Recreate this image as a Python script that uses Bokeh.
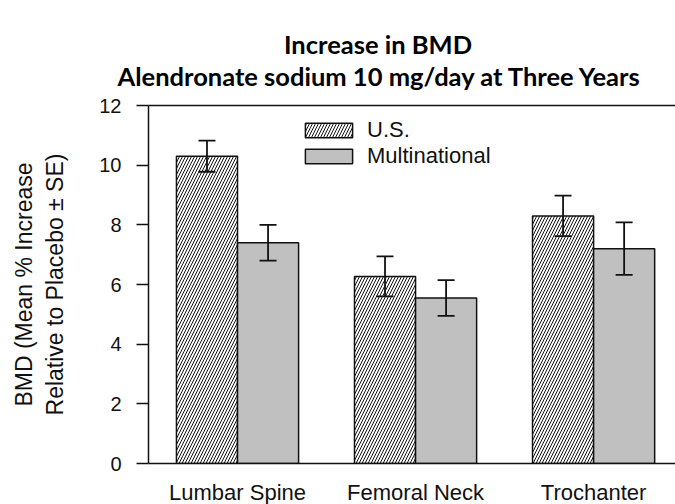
from bokeh.plotting import figure
from bokeh.models import (ColumnDataSource, Whisker, TeeHead, LinearAxis, FixedTicker,
                          Legend, LegendItem, Title, Range1d)
from bokeh.embed import file_html
from bokeh.resources import INLINE

categories = ["Lumbar Spine", "Femoral Neck", "Trochanter"]
us_mean = [10.3, 6.27, 8.3]
us_se = [0.52, 0.67, 0.68]
multi_mean = [7.4, 5.55, 7.2]
multi_se = [0.6, 0.6, 0.88]
series_names = ["U.S.", "Multinational"]
y_ticks = [0, 2, 4, 6, 8, 10, 12]
title_lines = ["Increase in BMD", "Alendronate sodium 10 mg/day at Three Years"]
y_label = "BMD (Mean % Increase\nRelative to Placebo \u00b1 SE)"

bar_w = 0.343
centers = [i + 0.5 for i in range(len(categories))]
us_x = [c - bar_w / 2 for c in centers]
mu_x = [c + bar_w / 2 for c in centers]

src_us = ColumnDataSource(dict(x=us_x, top=us_mean,
                               upper=[m + s for m, s in zip(us_mean, us_se)],
                               lower=[m - s for m, s in zip(us_mean, us_se)]))
src_mu = ColumnDataSource(dict(x=mu_x, top=multi_mean,
                               upper=[m + s for m, s in zip(multi_mean, multi_se)],
                               lower=[m - s for m, s in zip(multi_mean, multi_se)]))

p = figure(frame_width=527, frame_height=358, output_backend="svg", toolbar_location=None,
           x_range=Range1d(0, 2.96), y_range=Range1d(0, 12),
           min_border_left=148, min_border_top=105, min_border_right=0, min_border_bottom=41)
p.outline_line_color = None
p.grid.visible = False
p.background_fill_color = "white"
p.border_fill_color = "white"

r_us = p.vbar(x="x", top="top", width=bar_w, bottom=0, source=src_us,
              fill_color="white", line_color="#111111", line_width=1.5,
              hatch_pattern="/", hatch_color="#111111", hatch_scale=6, hatch_weight=1)
r_mu = p.vbar(x="x", top="top", width=bar_w, bottom=0, source=src_mu,
              fill_color="#c0c0c0", line_color="#111111", line_width=1.5)

for src in (src_us, src_mu):
    w = Whisker(source=src, base="x", upper="upper", lower="lower", level="overlay",
                line_color="#111111", line_width=1.8,
                upper_head=TeeHead(size=17, line_color="#111111", line_width=1.8),
                lower_head=TeeHead(size=17, line_color="#111111", line_width=1.8))
    p.add_layout(w)

# y axis
ya = p.yaxis[0]
ya.ticker = FixedTicker(ticks=y_ticks)
ya.minor_tick_line_color = None
ya.major_tick_out = 12
ya.major_tick_in = 0
ya.major_tick_line_width = 1.5
ya.major_tick_line_color = "#111111"
ya.axis_line_width = 1.5
ya.axis_line_color = "#111111"
ya.major_label_text_font = "Liberation Sans"
ya.major_label_text_font_size = "20px"
ya.major_label_text_color = "#111111"
ya.major_label_standoff = 15
ya.axis_label = y_label
ya.axis_label_text_font = "Liberation Sans"
ya.axis_label_text_font_size = "23px"
ya.axis_label_text_font_style = "normal"
ya.axis_label_text_color = "#111111"
ya.axis_label_text_line_height = 1.2
ya.axis_label_standoff = 28

# x axis
xa = p.xaxis[0]
xa.ticker = FixedTicker(ticks=centers)
xa.major_label_overrides = {c: name for c, name in zip(centers, categories)}
xa.major_tick_line_color = None
xa.minor_tick_line_color = None
xa.major_tick_out = 0
xa.major_tick_in = 0
xa.axis_line_width = 1.5
xa.axis_line_color = "#111111"
xa.major_label_text_font = "Liberation Sans"
xa.major_label_text_font_size = "22px"
xa.major_label_text_color = "#111111"
xa.major_label_standoff = 16

# top frame line
top = LinearAxis(ticker=FixedTicker(ticks=[]), major_label_text_font_size="0px",
                 major_tick_line_color=None, minor_tick_line_color=None,
                 major_tick_out=0, major_tick_in=0,
                 axis_line_width=1.5, axis_line_color="#111111")
p.add_layout(top, "above")

legend = Legend(items=[LegendItem(label=series_names[0], renderers=[r_us]),
                       LegendItem(label=series_names[1], renderers=[r_mu])],
                location=(151, 294), orientation="vertical",
                glyph_width=59, glyph_height=18, spacing=-3,
                padding=0, margin=0, border_line_color=None, background_fill_alpha=0,
                label_text_font="Liberation Sans", label_text_font_size="22px",
                label_text_color="#111111", label_standoff=9)
p.add_layout(legend)

# spacer between the frame and the titles
p.add_layout(Title(text=" ", text_font_size="1px", standoff=12), "above")
# titles: second line is closest to the frame
for line, off in zip(reversed(title_lines), [-31, 135.5]):
    p.add_layout(Title(text=line, align="left", offset=off, text_font="Lato",
                       text_font_style="bold", text_font_size="25.5px",
                       text_color="#000000", standoff=0), "above")

open("out.html", "w").write(file_html(p, INLINE))
